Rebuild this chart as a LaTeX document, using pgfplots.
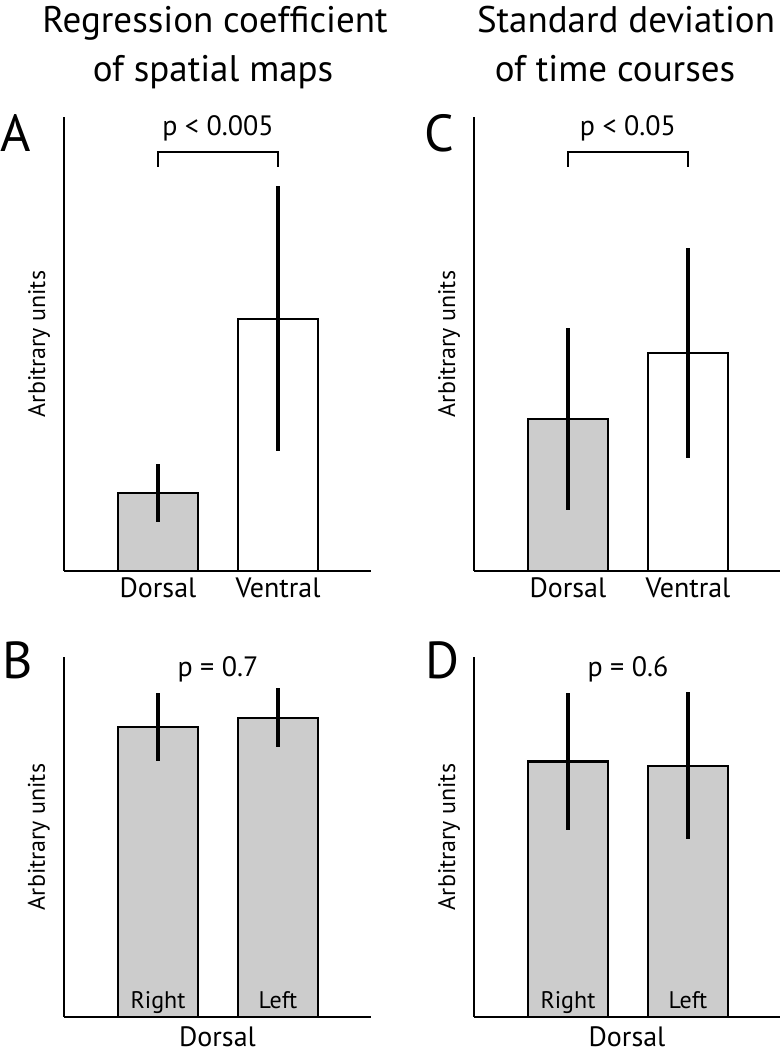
\documentclass[border=0pt]{standalone}
\usepackage{fontspec}
\setmainfont{PT Sans}
\usepackage{pgfplots}
\pgfplotsset{compat=1.18}
\definecolor{barfill}{RGB}{204,204,204}

\pgfplotsset{
  panel/.style={
    scale only axis,
    anchor=south west,
    axis lines=left,
    axis line style={-, line width=2.5pt},
    ymin=0,
    xmin=-0.783,
    ytick=\empty,
    xtick={0,1},
    major tick length=0pt,
    clip=false,
    ybar, bar width=80pt, bar shift=0pt,
    every axis plot/.append style={draw=black, line width=2.5pt},
    error bars/y dir=both,
    error bars/y explicit,
    error bars/error mark=none,
    error bars/error bar style={line width=3.8pt, draw=black},
    ylabel={Arbitrary units},
    ylabel style={at={([xshift=-19pt]axis description cs:0,0.5)}, anchor=base,
      font=\fontsize{24}{28}\selectfont},
    tick label style={font=\fontsize{28}{32}\selectfont},
  },
  toppanel/.style={panel, height=454pt, ymax=4.54,
    xticklabels={Dorsal,Ventral},
    xticklabel style={anchor=base, yshift=-27pt}},
  botpanel/.style={panel, height=360pt, ymax=3.60, axis on top,
    xticklabels={Right,Left},
    xticklabel style={anchor=base, yshift=9pt, font=\fontsize{24}{28}\selectfont},
    xlabel={Dorsal},
    xlabel style={at={([yshift=-30pt]axis description cs:0.5,0)}, anchor=base,
      font=\fontsize{28}{32}\selectfont}},
}

\begin{document}
\begin{tikzpicture}
\path[use as bounding box] (0pt,0pt) rectangle (782pt,1054pt);

% Titles
\node[anchor=base, font=\fontsize{37}{44}\selectfont] at (215pt,1021pt) {Regression coefficient};
\node[anchor=base, font=\fontsize{37}{44}\selectfont] at (213pt,972pt) {of spatial maps};
\node[anchor=base, font=\fontsize{37}{44}\selectfont] at (626pt,1021pt) {Standard deviation};
\node[anchor=base, font=\fontsize{37}{44}\selectfont] at (615pt,972pt) {of time courses};

% Panel letters
\node[anchor=base west, inner sep=0pt, font=\fontsize{52}{60}\selectfont] at (0pt,902pt) {A};
\node[anchor=base west, inner sep=0pt, font=\fontsize{52}{60}\selectfont] at (2pt,375pt) {B};
\node[anchor=base west, inner sep=0pt, font=\fontsize{52}{60}\selectfont] at (424pt,902pt) {C};
\node[anchor=base west, inner sep=0pt, font=\fontsize{52}{60}\selectfont] at (425pt,375pt) {D};

% Panel A
\begin{axis}[toppanel, at={(64pt,483pt)}, width=307pt, xmax=1.775]
\addplot[fill=barfill] coordinates {(0,0.78) +- (0,0.29)};
\addplot[fill=white] coordinates {(1,2.52) +- (0,1.325)};
\draw[line width=2.5pt] (axis cs:0,4.04) -- (axis cs:0,4.19) -- (axis cs:1,4.19) -- (axis cs:1,4.04);
\node[anchor=base, font=\fontsize{28}{32}\selectfont] at (axis cs:0.5,4.35) {p < 0.005};
\end{axis}

% Panel C
\begin{axis}[toppanel, at={(474pt,483pt)}, width=306pt, xmax=1.767]
\addplot[fill=barfill] coordinates {(0,1.52) +- (0,0.91)};
\addplot[fill=white] coordinates {(1,2.18) +- (0,1.05)};
\draw[line width=2.5pt] (axis cs:0,4.04) -- (axis cs:0,4.19) -- (axis cs:1,4.19) -- (axis cs:1,4.04);
\node[anchor=base, font=\fontsize{28}{32}\selectfont] at (axis cs:0.5,4.35) {p < 0.05};
\end{axis}

% Panel B
\begin{axis}[botpanel, at={(64pt,37pt)}, width=307pt, xmax=1.775]
\addplot[fill=barfill] coordinates {(0,2.90) +- (0,0.34) (1,2.99) +- (0,0.295)};
\node[anchor=base, font=\fontsize{28}{32}\selectfont] at (axis cs:0.5,3.40) {p = 0.7};
\end{axis}

% Panel D
\begin{axis}[botpanel, at={(474pt,37pt)}, width=306pt, xmax=1.767]
\addplot[fill=barfill] coordinates {(0,2.555) +- (0,0.685) (1,2.51) +- (0,0.735)};
\node[anchor=base, font=\fontsize{28}{32}\selectfont] at (axis cs:0.5,3.40) {p = 0.6};
\end{axis}
\end{tikzpicture}
\end{document}
